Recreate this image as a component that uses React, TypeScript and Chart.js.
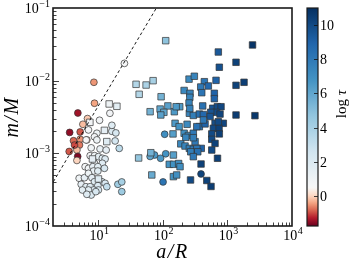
import React, { useEffect, useRef } from 'react';
import { Chart, registerables } from 'chart.js';

Chart.register(...registerables);

// ---------- data ----------
// circles: a/R, m/M, log tau
const circAR = [
  4.85, 8.59, 8.77, 6.84, 3.62, 5.27, 4.15, 5.27, 5.14, 3.56, 4.69, 4.82, 4.69, 6.68, 5.80, 4.31,
  25.5, 10.5, 15.2, 7.08, 9.55, 16.3, 18.8, 8.77, 6.52, 9.55, 18.3, 21.2,
  7.52, 8.77, 10.1, 11.6, 12.8, 11.6, 8.77, 6.29, 7.08, 8.28, 9.89, 8.46, 9.89, 12.5,
  5.08, 6.14, 7.08, 8.00, 8.77, 11.4, 9.89, 12.8, 5.46, 6.46, 7.52, 8.46, 7.08, 5.71,
  10.1, 7.80, 9.21, 6.68, 13.6, 20.2, 23.2, 23.2, 7.80, 10.7, 13.3, 16.3,
  74.6, 63.7, 92.5, 111, 107, 101, 391,
];
const circMM = [
  3.59e-3, 9.5e-3, 4.89e-3, 3.01e-3, 1.94e-3, 1.97e-3, 1.49e-3, 1.56e-3, 1.3e-3, 1.06e-3, 1.11e-3, 9.06e-4, 7.98e-4, 1.53e-3, 2.51e-3, 1.3e-3,
  1.73e-2, 2.85e-3, 3.56e-3, 2.1e-3, 1.89e-3, 2.01e-3, 1.91e-3, 1.69e-3, 1.53e-3, 1.53e-3, 1.48e-3, 1.17e-3,
  9.29e-4, 9.29e-4, 9.0e-4, 8.55e-4, 8.36e-4, 7.3e-4, 7.3e-4, 6.55e-4, 6.22e-4, 6.55e-4, 6.55e-4, 5.71e-4, 5.71e-4, 6.22e-4,
  4.54e-4, 4.62e-4, 5.31e-4, 4.62e-4, 4.07e-4, 4.07e-4, 3.59e-4, 3.87e-4, 3.75e-4, 3.47e-4, 3.47e-4, 3.13e-4, 3.13e-4, 3.13e-4,
  3.13e-4, 2.67e-4, 2.97e-4, 2.73e-4, 3.47e-4, 3.75e-4, 4.04e-4, 2.97e-4, 1.19e-3, 1.15e-3, 1.11e-3, 2.43e-3,
  9.48e-4, 9.06e-4, 8.55e-4, 9.86e-4, 1.83e-3, 4.04e-4, 5.2e-4,
];
const circTau = [
  -1.4, -0.5, -0.4, -0.1, -1.5, -0.9, -0.8, -0.5, -0.7, -0.9, -0.2, -1.6, 0.0, -0.1, -0.2, -1.0,
  0.6, 0.8, 0.8, 0.6, 1.0, 2.0, 2.2, 0.8, 0.5, 1.0, 2.4, 3.2,
  0.8, 1.0, 1.6, 1.8, 2.0, 1.8, 1.0, 0.7, 0.9, 1.4, 1.6, 1.2, 1.7, 2.2,
  0.9, 1.4, 1.0, 1.5, 1.8, 2.0, 2.0, 2.1, 1.5, 1.7, 1.9, 2.0, 1.7, 1.6,
  2.2, 2.0, 2.2, 1.9, 3.0, 4.2, 4.0, 4.3, 0.9, 1.2, 1.5, 1.8,
  6.5, 6.0, 6.5, 6.8, 7.0, 8.2, 10.2,
];

// squares: a/R, m/M, log tau
const sqAR = [
  7.45, 14.8, 19.5, 12.5, 13.6, 8.16, 10.1,
  111, 70.8, 55.2, 38.6, 43.1, 94.2, 63.7, 90.9, 120, 104, 151, 183, 93.2, 161,
  42.3, 65.3, 146, 144, 214, 249, 67.6, 126, 147, 176, 185, 146, 164,
  155, 179, 238, 368, 451, 258, 297, 368,
  724, 2450, 1360, 750, 255, 308, 440, 387, 667, 507, 1360, 1810,
  214, 264, 262, 401, 628, 628, 255, 262, 415, 593, 699, 797, 667, 769, 552,
  1360, 2670, 425, 540, 425, 644, 865, 606, 743, 573, 750, 573, 644, 394, 573, 703,
  391, 480, 558, 269, 227, 297, 190, 221, 258, 297, 336, 271, 348, 297, 316, 297, 336, 724,
];
const sqMM = [
  2.67e-3, 4.78e-3, 4.44e-3, 2.07e-3, 1.45e-3, 8.36e-4, 4.44e-4,
  3.55e-2, 1.0e-2, 8.71e-3, 8.91e-3, 6.49e-3, 6.01e-3, 3.74e-3, 4.07e-3, 4.49e-3, 3.67e-3, 3.74e-3, 4.38e-3, 3.37e-3, 4.38e-3,
  8.63e-4, 1.02e-3, 9.48e-4, 1.85e-3, 1.89e-3, 1.76e-3, 5.04e-4, 7.06e-4, 7.06e-4, 7.24e-4, 6.55e-4, 4.78e-4, 5.04e-4,
  2.59e-3, 2.33e-3, 2.51e-3, 2.33e-3, 2.54e-3, 3.56e-3, 3.32e-3, 3.47e-3,
  2.48e-2, 3.1e-2, 1.79e-2, 1.53e-2, 1.05e-2, 1.15e-2, 9.68e-3, 8.18e-3, 1.01e-2, 8.45e-3, 8.63e-3, 9.5e-3,
  7.33e-3, 6.7e-3, 5.9e-3, 6.83e-3, 6.7e-3, 5.65e-3, 4.93e-3, 4.14e-3, 4.49e-3, 4.17e-3, 4.38e-3, 4.38e-3, 3.67e-3, 3.47e-3, 3.67e-3,
  3.37e-3, 3.3e-3, 3.42e-3, 3.21e-3, 2.88e-3, 2.59e-3, 2.59e-3, 2.21e-3, 2.21e-3, 1.85e-3, 1.85e-3, 1.56e-3, 1.37e-3, 1.17e-3, 1.11e-3, 8.55e-4,
  7.13e-4, 4.23e-4, 3.5e-4, 4.3e-4, 1.66e-3, 1.89e-3, 1.35e-3, 1.26e-3, 1.17e-3, 1.14e-3, 1.17e-3, 1.05e-3, 1.05e-3, 9.0e-4, 1.45e-3, 1.64e-3, 2.33e-3, 2.72e-3,
];
const sqTau = [
  0.8, 1.0, 1.6, 1.5, 1.8, 1.5, 1.8,
  4.8, 4.0, 3.8, 3.6, 3.6, 5.5, 5.5, 6.0, 6.2, 6.0, 6.5, 6.5, 6.2, 6.5,
  4.6, 5.5, 6.3, 6.3, 7.0, 7.2, 5.8, 6.8, 6.8, 7.0, 7.0, 6.8, 7.0,
  6.5, 6.8, 7.2, 8.5, 9.0, 7.5, 7.8, 8.5,
  9.4, 10.8, 10.3, 9.7, 7.2, 7.5, 8.2, 8.0, 9.0, 8.8, 10.3, 10.4,
  7.3, 7.6, 7.5, 8.2, 9.0, 9.0, 7.5, 7.6, 8.4, 9.6, 9.9, 10.1, 9.9, 10.2, 9.6,
  10.5, 10.7, 8.8, 9.6, 8.0, 9.8, 10.2, 10.0, 10.3, 10.0, 10.4, 10.0, 10.3, 9.0, 10.0, 10.4,
  10.3, 10.3, 10.5, 10.0, 7.5, 8.0, 7.3, 7.5, 7.8, 8.0, 8.2, 7.8, 8.4, 8.0, 8.0, 7.8, 8.3, 10.0,
];

// dashed boundary line (power law, clipped to the axes)
const lineAR = [1.5, 120];
const lineMM = [2.59e-4, 0.185];

// axes / colour bar
const X_MIN = 2, X_MAX = 1e4;
const Y_MIN = 1e-4, Y_MAX = 1e-1;
const xTickExps = [1, 2, 3, 4];
const yTickExps = [-4, -3, -2, -1];
const TAU_MIN = -1.75, TAU_CENTER = 0.5, TAU_MAX = 11;
const cbTicks = [0, 2, 4, 6, 8, 10];

const RDBU = ['#67001f', '#b2182b', '#d6604d', '#f4a582', '#fddbc7', '#f7f7f7', '#d1e5f0', '#92c5de', '#4393c3', '#2166ac', '#053061'];

function hexToRgb(h: string) {
  return [parseInt(h.slice(1, 3), 16), parseInt(h.slice(3, 5), 16), parseInt(h.slice(5, 7), 16)];
}
function normTau(t: number) {
  if (t <= TAU_CENTER) return 0.5 * (t - TAU_MIN) / (TAU_CENTER - TAU_MIN);
  return 0.5 + 0.5 * (t - TAU_CENTER) / (TAU_MAX - TAU_CENTER);
}
function tauColor(t: number) {
  let u = Math.max(0, Math.min(1, normTau(t)));
  const p = u * (RDBU.length - 1);
  const i = Math.min(RDBU.length - 2, Math.floor(p));
  const f = p - i;
  const a = hexToRgb(RDBU[i]);
  const b = hexToRgb(RDBU[i + 1]);
  const c = a.map((v, k) => Math.round(v + (b[k] - v) * f));
  return `rgb(${c[0]},${c[1]},${c[2]})`;
}

const W = 350, H = 267;
const SERIF = '"Liberation Serif", "DejaVu Serif", serif';

function drawPow(ctx: CanvasRenderingContext2D, exp: number, x: number, y: number, align: 'left' | 'right' | 'center') {
  const base = '10';
  const sup = exp < 0 ? '\u2212' + Math.abs(exp) : String(exp);
  const bf = `14px ${SERIF}`;
  const sf = `10px ${SERIF}`;
  ctx.font = bf;
  const wb = ctx.measureText(base).width;
  ctx.font = sf;
  const ws = ctx.measureText(sup).width;
  const total = wb + 0.5 + ws;
  const x0 = align === 'right' ? x - total : align === 'center' ? x - total / 2 : x;
  ctx.textAlign = 'left';
  ctx.textBaseline = 'alphabetic';
  ctx.font = bf;
  ctx.fillText(base, x0, y);
  ctx.font = sf;
  ctx.fillText(sup, x0 + wb + 0.5, y - 6);
}

const mainDeco = {
  id: 'mainDeco',
  afterDraw(chart: any) {
    const { ctx, chartArea: a, scales } = chart;
    const xs = scales.x, ys = scales.y;
    ctx.save();
    ctx.strokeStyle = '#111';
    ctx.lineWidth = 0.8;
    ctx.beginPath();
    for (let e = 0; e <= 3; e++) {
      for (let k = 1; k <= 9; k++) {
        const v = k * Math.pow(10, e);
        if (v <= X_MIN || v >= X_MAX) continue;
        const px = Math.round(xs.getPixelForValue(v)) + 0.5;
        const len = k === 1 ? 6 : 3.5;
        ctx.moveTo(px, a.bottom);
        ctx.lineTo(px, a.bottom - len);
      }
    }
    for (let e = -4; e <= -2; e++) {
      for (let k = 1; k <= 9; k++) {
        const v = k * Math.pow(10, e);
        if (v <= Y_MIN * 1.0001 || v >= Y_MAX * 0.9999) continue;
        const py = Math.round(ys.getPixelForValue(v)) + 0.5;
        const len = k === 1 ? 6 : 3.5;
        ctx.moveTo(a.left, py);
        ctx.lineTo(a.left + len, py);
      }
    }
    ctx.stroke();

    ctx.lineWidth = 1.6;
    ctx.strokeStyle = '#1a1a1a';
    ctx.strokeRect(a.left, a.top, a.right - a.left, a.bottom - a.top);

    ctx.fillStyle = '#000';
    for (const e of xTickExps) {
      const px = xs.getPixelForValue(Math.pow(10, e));
      drawPow(ctx, e, px + 1, a.bottom + 14, 'center');
    }
    for (const e of yTickExps) {
      const py = ys.getPixelForValue(Math.pow(10, e));
      drawPow(ctx, e, a.left - 3, py + 5, 'right');
    }

    // axis titles
    (ctx as any).letterSpacing = '1.5px';
    ctx.font = `italic 20px ${SERIF}`;
    ctx.textAlign = 'center';
    ctx.textBaseline = 'alphabetic';
    ctx.fillText('a/R', (a.left + a.right) / 2, 258);
    ctx.save();
    ctx.translate(18, (a.top + a.bottom) / 2);
    ctx.rotate(-Math.PI / 2);
    ctx.fillText('m/M', 0, 0);
    ctx.restore();
    (ctx as any).letterSpacing = '0px';
    ctx.restore();
  },
};

const cbDeco = {
  id: 'cbDeco',
  afterDraw(chart: any) {
    const { ctx, chartArea: a, scales } = chart;
    const y = scales.y;
    const yb = y.getPixelForValue(TAU_MIN);
    const yt = y.getPixelForValue(TAU_MAX);
    ctx.save();
    const g = ctx.createLinearGradient(0, yb, 0, yt);
    const n = 80;
    for (let i = 0; i <= n; i++) {
      const t = TAU_MIN + ((TAU_MAX - TAU_MIN) * i) / n;
      g.addColorStop((y.getPixelForValue(t) - yb) / (yt - yb), tauColor(t));
    }
    ctx.fillStyle = g;
    ctx.fillRect(a.left, yt, a.right - a.left, yb - yt);
    ctx.strokeStyle = '#111';
    ctx.lineWidth = 0.8;
    ctx.beginPath();
    for (const t of cbTicks) {
      const py = Math.round(y.getPixelForValue(t)) + 0.5;
      ctx.moveTo(a.right - 4, py);
      ctx.lineTo(a.right, py);
    }
    ctx.stroke();
    ctx.lineWidth = 1.2;
    ctx.strokeStyle = '#1a1a1a';
    ctx.strokeRect(a.left, yt, a.right - a.left, yb - yt);

    ctx.fillStyle = '#000';
    ctx.font = `14px ${SERIF}`;
    ctx.textAlign = 'left';
    ctx.textBaseline = 'alphabetic';
    for (const t of cbTicks) {
      const py = y.getPixelForValue(t);
      ctx.fillText(String(t), a.right + 2, py + 5);
    }
    // colour bar label "log τ"
    ctx.save();
    ctx.translate(346, 104);
    ctx.rotate(-Math.PI / 2);
    const f1 = `15px ${SERIF}`;
    const f2 = `italic 15px ${SERIF}`;
    ctx.font = f1;
    const w1 = ctx.measureText('log ').width;
    ctx.font = f2;
    const w2 = ctx.measureText('\u03c4').width;
    const x0 = -(w1 + w2) / 2;
    ctx.font = f1;
    ctx.fillText('log ', x0, 0);
    ctx.font = f2;
    ctx.fillText('\u03c4', x0 + w1, 0);
    ctx.restore();
    ctx.restore();
  },
};

export default function App() {
  const mainRef = useRef<HTMLCanvasElement>(null);
  const cbRef = useRef<HTMLCanvasElement>(null);

  useEffect(() => {
    const circles = circAR.map((x, i) => ({ x, y: circMM[i] }));
    const squares = sqAR.map((x, i) => ({ x, y: sqMM[i] }));
    const line = lineAR.map((x, i) => ({ x, y: lineMM[i] }));

    const main = new Chart(mainRef.current as HTMLCanvasElement, {
      type: 'scatter',
      data: {
        datasets: [
          {
            type: 'line',
            data: line,
            borderColor: '#000',
            borderWidth: 0.9,
            borderDash: [3, 2.5],
            pointRadius: 0,
            fill: false,
            order: 0,
          } as any,
          {
            data: squares,
            pointStyle: 'rect',
            pointRadius: 4.6,
            backgroundColor: sqTau.map(tauColor),
            borderColor: '#333',
            borderWidth: 0.7,
            order: 1,
          },
          {
            data: circles,
            pointStyle: 'circle',
            pointRadius: 3.4,
            backgroundColor: circTau.map(tauColor),
            borderColor: '#333',
            borderWidth: 0.7,
            order: 2,
          },
        ],
      },
      options: {
        animation: false,
        responsive: false,
        devicePixelRatio: 1,
        events: [],
        layout: { padding: { left: 53, top: 8, right: 58, bottom: 41 } },
        plugins: { legend: { display: false }, tooltip: { enabled: false } },
        scales: {
          x: { type: 'logarithmic', min: X_MIN, max: X_MAX, display: false },
          y: { type: 'logarithmic', min: Y_MIN, max: Y_MAX, display: false },
        },
      },
      plugins: [mainDeco],
    });

    const cb = new Chart(cbRef.current as HTMLCanvasElement, {
      type: 'scatter',
      data: { datasets: [] },
      options: {
        animation: false,
        responsive: false,
        devicePixelRatio: 1,
        events: [],
        layout: { padding: { left: 307, top: 8, right: 32, bottom: 41 } },
        plugins: { legend: { display: false }, tooltip: { enabled: false } },
        scales: {
          x: { type: 'linear', min: 0, max: 1, display: false },
          y: { type: 'linear', min: TAU_MIN, max: TAU_MAX, display: false },
        },
      },
      plugins: [cbDeco],
    });

    return () => {
      main.destroy();
      cb.destroy();
    };
  }, []);

  return (
    <div style={{ position: 'fixed', left: 0, top: 0, width: W, height: H, background: '#fff' }}>
      <canvas ref={mainRef} width={W} height={H} style={{ position: 'absolute', left: 0, top: 0 }} />
      <canvas ref={cbRef} width={W} height={H} style={{ position: 'absolute', left: 0, top: 0 }} />
    </div>
  );
}
